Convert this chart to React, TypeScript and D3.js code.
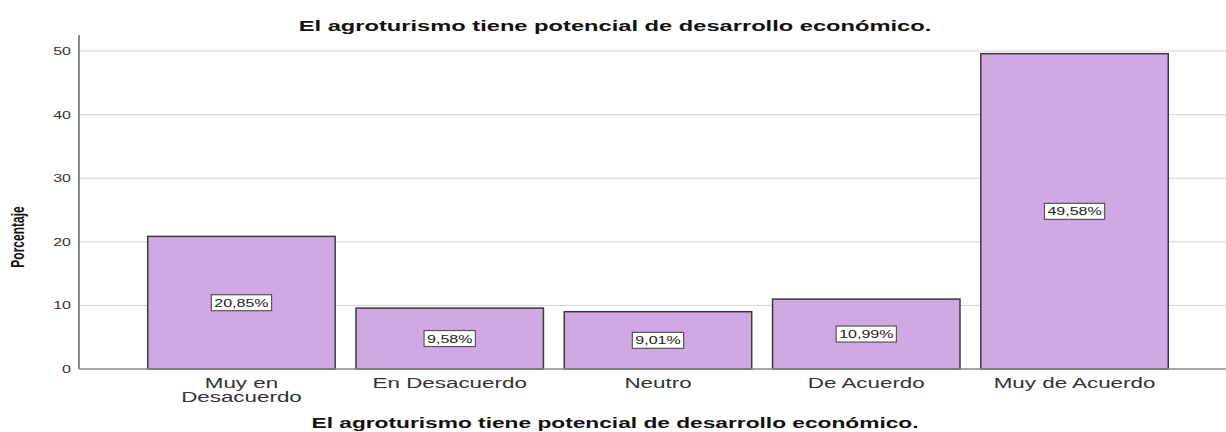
import React, { useEffect, useRef } from "react";
import * as d3 from "d3";

const categories = ["Muy en Desacuerdo", "En Desacuerdo", "Neutro", "De Acuerdo", "Muy de Acuerdo"];
const categoryLines = [["Muy en", "Desacuerdo"], ["En Desacuerdo"], ["Neutro"], ["De Acuerdo"], ["Muy de Acuerdo"]];
const percentages = [20.85, 9.58, 9.01, 10.99, 49.58];
const percentLabels = ["20,85%", "9,58%", "9,01%", "10,99%", "49,58%"];
const yTicks = [0, 10, 20, 30, 40, 50];
const title = "El agroturismo tiene potencial de desarrollo económico.";
const yTitle = "Porcentaje";

const W = 1226;
const H = 432;
const SX = 1.6; // horizontal stretch of the text, as in the source image
const FONT = "'Liberation Sans', Arial, sans-serif";

const App = () => {
  const ref = useRef<SVGSVGElement | null>(null);

  useEffect(() => {
    const svg = d3.select(ref.current!);
    svg.selectAll("*").remove();

    const left = 79;
    const bottom = 369;

    const x = d3.scaleBand<string>().domain(categories).range([left, 1237]).paddingInner(0.1).paddingOuter(0.33);
    const y = d3.scaleLinear().domain([0, 50]).range([bottom, 51]);

    // gridlines
    svg.append("g").selectAll("line").data(yTicks.filter(t => t > 0)).join("line")
      .attr("x1", left).attr("x2", W)
      .attr("y1", d => y(d)).attr("y2", d => y(d))
      .attr("stroke", "#d4d4d4").attr("stroke-width", 1);

    // y tick labels
    svg.append("g").selectAll("text").data(yTicks).join("text")
      .attr("transform", d => `translate(${left - 8},${y(d) + 4}) scale(${SX},1)`)
      .attr("text-anchor", "end")
      .attr("font-family", FONT).attr("font-size", 10).attr("fill", "#333")
      .text(d => d);

    // bars
    svg.append("g").selectAll("rect").data(percentages).join("rect")
      .attr("x", (d, i) => x(categories[i])!)
      .attr("width", x.bandwidth())
      .attr("y", d => y(d))
      .attr("height", d => bottom - y(d))
      .attr("fill", "#d0a9e4")
      .attr("stroke", "#3a3a3a").attr("stroke-width", 1.5);

    // axes lines
    svg.append("line").attr("x1", left).attr("x2", left).attr("y1", 35).attr("y2", bottom)
      .attr("stroke", "#8a8a8a").attr("stroke-width", 2);
    svg.append("line").attr("x1", left).attr("x2", W).attr("y1", bottom).attr("y2", bottom)
      .attr("stroke", "#8a8a8a").attr("stroke-width", 1.5);

    // value labels
    const lab = svg.append("g").selectAll("g").data(percentages).join("g")
      .attr("transform", (d, i) => `translate(${x(categories[i])! + x.bandwidth() / 2},${y(d / 2)})`);
    lab.append("rect").attr("fill", "#fff").attr("stroke", "#555").attr("stroke-width", 1.2);
    lab.append("text")
      .attr("transform", `translate(0,4) scale(${SX},1)`)
      .attr("text-anchor", "middle")
      .attr("font-family", FONT).attr("font-size", 10).attr("fill", "#222")
      .text((d, i) => percentLabels[i]);
    lab.each(function () {
      const g = d3.select(this);
      const t = g.select<SVGTextElement>("text").node()!;
      const w = t.getComputedTextLength() * SX + 6;
      g.select("rect").attr("x", -w / 2).attr("y", -8).attr("width", w).attr("height", 16);
    });

    // x tick labels
    const xl = svg.append("g").selectAll("text").data(categories).join("text")
      .attr("transform", d => `translate(${x(d)! + x.bandwidth() / 2},${bottom + 19}) scale(${SX},1)`)
      .attr("text-anchor", "middle")
      .attr("font-family", FONT).attr("font-size", 14).attr("fill", "#333");
    xl.each(function (d, i) {
      d3.select(this).selectAll("tspan").data(categoryLines[i]).join("tspan")
        .attr("x", 0).attr("dy", (l, j) => (j === 0 ? 0 : 14))
        .text(l => l);
    });

    // titles
    svg.append("text")
      .attr("transform", `translate(615,31) scale(${SX},1)`)
      .attr("text-anchor", "middle").attr("font-family", FONT).attr("font-weight", "bold")
      .attr("font-size", 14.8).attr("fill", "#111").text(title);
    svg.append("text")
      .attr("transform", `translate(615,428) scale(${SX},1)`)
      .attr("text-anchor", "middle").attr("font-family", FONT).attr("font-weight", "bold")
      .attr("font-size", 14.2).attr("fill", "#111").text(title);
    svg.append("text")
      .attr("transform", `translate(24,237) scale(${SX},1) rotate(-90)`)
      .attr("text-anchor", "middle").attr("font-family", FONT).attr("font-weight", "bold")
      .attr("font-size", 12).attr("fill", "#111").text(yTitle);
  }, []);

  return (
    <svg ref={ref} width={W} height={H}
      style={{ position: "absolute", left: 0, top: 0, background: "#fff", display: "block" }} />
  );
};

export default App;
